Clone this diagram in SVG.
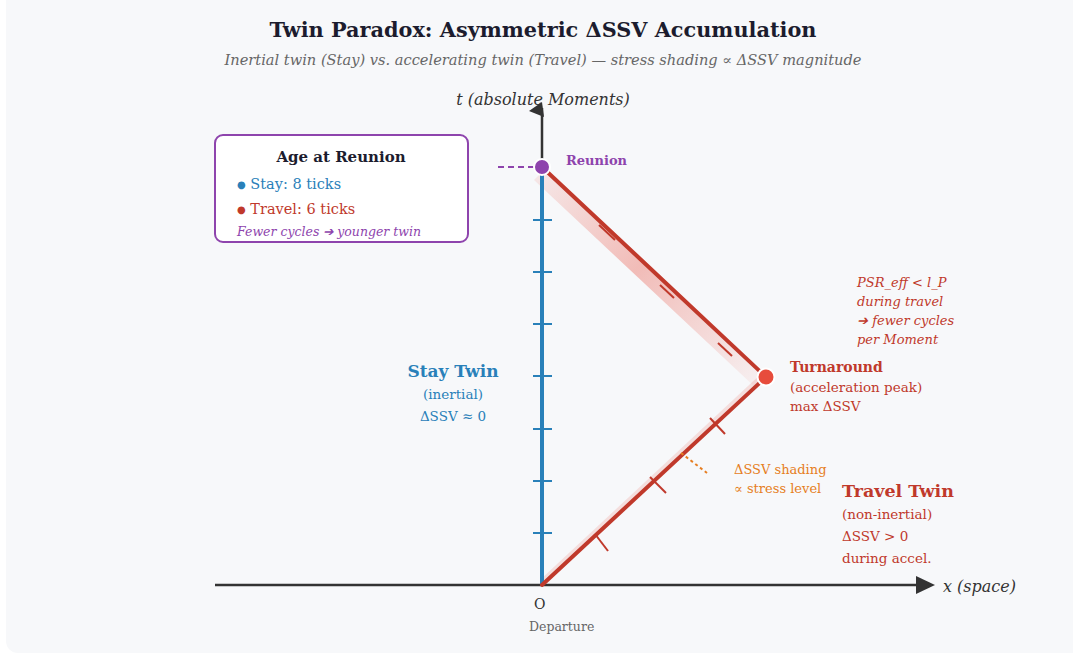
<svg xmlns="http://www.w3.org/2000/svg" width="1073" height="655" viewBox="0 0 1073 655">
<style>
text{font-family:"DejaVu Serif","Liberation Serif",serif}
.b{font-weight:bold}
.i{font-style:italic}
.red{fill:#c0392b}
.blue{fill:#2980b9}
.pur{fill:#8e44ad}
.org{fill:#e67e22}
.axis{stroke:#333;stroke-width:2.5;fill:none}
.rl{stroke:#c0392b;stroke-width:4;fill:none;stroke-linecap:round}
.tk{stroke:#c0392b;stroke-width:2}
.btk{stroke:#2980b9;stroke-width:2}
</style>
<defs>
<linearGradient id="band" x1="542" y1="170" x2="762" y2="380" gradientUnits="userSpaceOnUse">
<stop offset="0" stop-color="#e74c3c" stop-opacity="0.1"/>
<stop offset="0.45" stop-color="#e74c3c" stop-opacity="0.35"/>
<stop offset="1" stop-color="#e74c3c" stop-opacity="0.05"/>
</linearGradient>
</defs>
<rect width="1073" height="655" fill="#ffffff"/>
<rect x="6" y="-12" width="1090" height="665" rx="12" fill="#f7f8fa"/>

<text x="543" y="37" text-anchor="middle" class="b" font-size="21" fill="#1c1c2e" textLength="547" lengthAdjust="spacingAndGlyphs">Twin Paradox: Asymmetric ΔSSV Accumulation</text>
<text x="543" y="65" text-anchor="middle" class="i" font-size="14" fill="#666" textLength="637" lengthAdjust="spacingAndGlyphs">Inertial twin (Stay) vs. accelerating twin (Travel) — stress shading ∝ ΔSSV magnitude</text>

<g id="axes">
<line x1="215" y1="585" x2="918" y2="585" class="axis"/>
<polygon points="916,576 935,585 916,594" fill="#333"/>
<text x="943" y="592" class="i" font-size="16" fill="#333">x (space)</text>
<line x1="542" y1="585" x2="542" y2="108" class="axis"/>
<text x="543" y="105" text-anchor="middle" class="i" font-size="16" fill="#333">t (absolute Moments)</text>
<polygon points="542,102 529,111 544,117" fill="#333"/>
<text x="534" y="609" font-size="14" fill="#333">O</text>
<text x="529" y="631" font-size="12.5" fill="#666">Departure</text>
</g>

<g id="connectors">
<polygon points="546,168 768,376 756,388 534,180" fill="url(#band)"/>
<polygon points="544,585 767,377 763,372 540,580" fill="#e74c3c" fill-opacity="0.15"/>
<line x1="542" y1="585" x2="542" y2="170" stroke="#2980b9" stroke-width="4"/>
<g class="btk">
<line x1="533" y1="220" x2="552" y2="220"/>
<line x1="533" y1="272" x2="552" y2="272"/>
<line x1="533" y1="324" x2="552" y2="324"/>
<line x1="533" y1="376" x2="552" y2="376"/>
<line x1="533" y1="429" x2="552" y2="429"/>
<line x1="533" y1="481" x2="552" y2="481"/>
<line x1="533" y1="533" x2="552" y2="533"/>
</g>
<line x1="542" y1="585" x2="766" y2="377" class="rl"/>
<line x1="766" y1="377" x2="542" y2="167" class="rl"/>
<g class="tk">
<line x1="595" y1="534" x2="608" y2="551"/>
<line x1="650" y1="477" x2="666" y2="493"/>
<line x1="710" y1="418" x2="725" y2="434"/>
<line x1="599" y1="225" x2="615" y2="240"/>
<line x1="660" y1="285" x2="674" y2="298"/>
<line x1="718" y1="343" x2="732" y2="356"/>
</g>
<line x1="498" y1="167" x2="535" y2="167" stroke="#8e44ad" stroke-width="2" stroke-dasharray="6,4"/>
<line x1="681" y1="453" x2="707" y2="473" stroke="#e67e22" stroke-width="2" stroke-dasharray="3,3"/>
</g>

<g id="reunion">
<circle cx="542" cy="167" r="8" fill="#8e44ad" stroke="#fff" stroke-width="2"/>
<text x="566" y="165" class="b pur" font-size="13">Reunion</text>
</g>

<g id="turnaround">
<circle cx="766" cy="377" r="8.5" fill="#e74c3c" stroke="#fff" stroke-width="2"/>
<text x="790" y="372" class="b red" font-size="14">Turnaround</text>
<text x="790" y="392" class="red" font-size="13.5">(acceleration peak)</text>
<text x="790" y="411" class="red" font-size="13.5">max ΔSSV</text>
</g>

<g id="psr-note">
<text x="857" y="287" class="i red" font-size="13">PSR_eff &lt; l_P</text>
<text x="857" y="306" class="i red" font-size="13">during travel</text>
<text x="857" y="325" class="i red" font-size="13">➔ fewer cycles</text>
<text x="857" y="344" class="i red" font-size="13">per Moment</text>
</g>

<g id="legend">
<rect x="215" y="135" width="253" height="107" rx="8" fill="#fff" stroke="#8e44ad" stroke-width="2"/>
<text x="341" y="162" text-anchor="middle" class="b" font-size="15" fill="#1c1c2e">Age at Reunion</text>
<text x="237" y="189" class="blue" font-size="14.5"><tspan font-size="10" dy="-1">●</tspan><tspan dy="1"> Stay: 8 ticks</tspan></text>
<text x="237" y="214" class="red" font-size="14.5"><tspan font-size="10" dy="-1">●</tspan><tspan dy="1"> Travel: 6 ticks</tspan></text>
<text x="237" y="236" class="i pur" font-size="12.5">Fewer cycles ➔ younger twin</text>
</g>

<g id="stay-twin">
<text x="453" y="377" text-anchor="middle" class="b blue" font-size="17">Stay Twin</text>
<text x="453" y="399" text-anchor="middle" class="blue" font-size="13.5">(inertial)</text>
<text x="453" y="421" text-anchor="middle" class="blue" font-size="13.5">ΔSSV ≈ 0</text>
</g>

<g id="shading-note">
<text x="734" y="474" class="org" font-size="13">ΔSSV shading</text>
<text x="734" y="493" class="org" font-size="13">∝ stress level</text>
</g>

<g id="travel-twin">
<text x="842" y="497" class="b red" font-size="17.5">Travel Twin</text>
<text x="842" y="519" class="red" font-size="13.5">(non-inertial)</text>
<text x="842" y="541" class="red" font-size="13.5">ΔSSV &gt; 0</text>
<text x="842" y="563" class="red" font-size="13.5">during accel.</text>
</g>
</svg>
